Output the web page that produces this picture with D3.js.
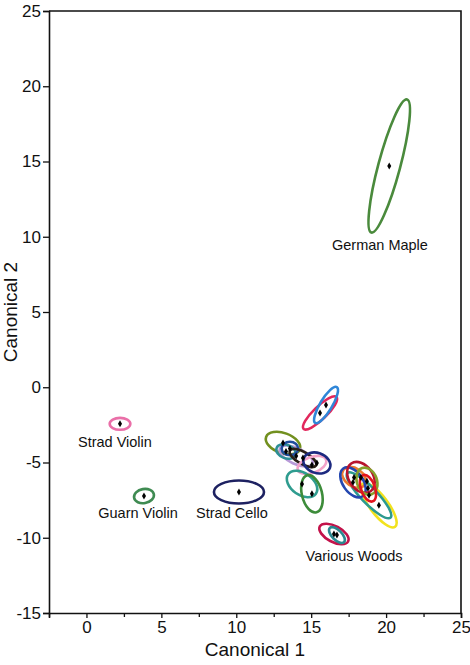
<!DOCTYPE html>
<html><head><meta charset="utf-8">
<script src="https://cdn.jsdelivr.net/npm/d3@7"></script>
<style>
body{margin:0;background:#fff;}
text{font-family:"Liberation Sans",Arial,Helvetica,sans-serif;fill:#111;}
</style></head>
<body>
<svg id="chart" width="470" height="665"></svg>
<script>
// ---- data (canonical scores: group means and confidence ellipses) ----
const groups   = ["German Maple","Strad Violin","Guarn Violin","Strad Cello",
  "Wood A","Wood B","Wood C","Wood D","Wood E","Wood F","Wood G","Wood H","Wood I","Wood J","Wood K",
  "Wood L","Wood M","Wood N","Wood O","Wood P","Wood Q","Wood R","Wood S","Wood T"];
const meanC1   = [20.21, 2.24, 3.84, 10.18, 15.59, 15.99, 13.12, 13.58, 13.32, 14.00, 14.45, 15.05, 15.38, 14.39, 15.05,
  17.86, 17.79, 18.32, 18.72, 18.79, 18.86, 19.52, 16.52, 16.72];
const meanC2   = [14.70, -2.43, -7.23, -6.96, -1.71, -1.18, -3.71, -4.07, -4.27, -4.57, -4.70, -5.16, -5.03, -6.43, -7.08,
  -5.99, -6.32, -5.99, -6.24, -6.71, -7.18, -7.84, -9.75, -9.82];
const semiMajor = [4.6, 0.69, 0.67, 1.67, 1.53, 1.40, 1.20, 0.55, 0.67, 1.20, 1.00, 1.00, 0.93, 1.13, 1.27,
  0.87, 1.13, 1.13, 0.93, 0.93, 2.07, 1.80, 1.07, 0.67];
const semiMinor = [0.73, 0.40, 0.47, 0.77, 0.43, 0.40, 0.67, 0.45, 0.45, 0.53, 0.40, 0.53, 0.67, 0.73, 0.67,
  0.60, 0.67, 0.80, 0.67, 0.47, 0.53, 0.60, 0.53, 0.33];
const tiltDeg  = [75, 0, 10, 0, 44, 59, -20, 0, -20, -25, -30, 20, -20, -35, 104,
  -35, -55, -55, -70, -70, -46, -53, -28, -45];
const colors   = ["#4a8a3c","#ea6fa8","#3f8b52","#1d2161","#e2275c","#2f86d8","#72901f","#1f4d9e","#2d8f96",
  "#b89ad8","#2a2018","#f3a3c9","#1d2a80","#2f9c8f","#3d8c3a",
  "#ec7a30","#2447b0","#b8142e","#86a02c","#e3141f","#2c9a8e","#f2e21e","#c3124a","#2b8890"];
const drawOrder = [0,1,2,3,4,5,6,9,8,7,10,11,12,13,14,21,20,15,16,17,18,19,22,23];
const labelText = ["Strad Violin","Guarn Violin","Strad Cello","German Maple","Various Woods"];
const labelC1   = [1.9, 3.44, 9.71, 19.59, 17.86];
const labelC2   = [-3.97, -8.69, -8.69, 9.12, -11.54];
const xTicks = [0,5,10,15,20,25];
const xMinor = [-2.5,2.5,7.5,12.5,17.5,22.5];
const yTicks = [-15,-10,-5,0,5,10,15,20,25];

// ---- layout ----
const svg = d3.select("#chart");
const L=49, R=461, T=11, B=613;
const x = d3.scaleLinear().domain([-2.5,25]).range([L,R]);
const y = d3.scaleLinear().domain([-15,25]).range([B,T]);
const k = x(1)-x(0);
const fmt = d => String(d);

// frame
svg.append("path").attr("d",`M${L},${T}H${R}V${B}`).attr("fill","none").attr("stroke","#111").attr("stroke-width",1.6);

// axes
svg.append("g").attr("transform",`translate(0,${B})`)
  .call(d3.axisBottom(x).tickValues(xTicks).tickSize(5).tickPadding(3).tickFormat(fmt));
svg.append("g").attr("transform",`translate(0,${B})`)
  .call(d3.axisBottom(x).tickValues(xMinor).tickSize(4).tickFormat(""))
  .call(g=>g.select(".domain").remove());
svg.append("g").attr("transform",`translate(${L},0)`)
  .call(d3.axisLeft(y).tickValues(yTicks).tickSize(6).tickPadding(2).tickFormat(fmt));
svg.selectAll(".domain").attr("stroke","#111").attr("stroke-width",1.6);
svg.selectAll(".tick line").attr("stroke","#111").attr("stroke-width",1.3);
svg.selectAll(".tick text").attr("font-size",17).attr("font-family","Liberation Sans, Arial, sans-serif").attr("fill","#111");

// titles
svg.append("text").attr("x",(L+R)/2).attr("y",656).attr("text-anchor","middle").attr("font-size",19).text("Canonical 1");
svg.append("text").attr("transform",`translate(17,${(T+B)/2}) rotate(-90)`).attr("text-anchor","middle").attr("font-size",19).text("Canonical 2");

// ellipses
svg.append("g").selectAll("ellipse").data(drawOrder).join("ellipse")
  .attr("cx",0).attr("cy",0)
  .attr("rx",i=>semiMajor[i]*k).attr("ry",i=>semiMinor[i]*k)
  .attr("transform",i=>`translate(${x(meanC1[i])},${y(meanC2[i])}) rotate(${-tiltDeg[i]})`)
  .attr("fill","none").attr("stroke",i=>colors[i]).attr("stroke-width",2.6);

// means
svg.append("g").selectAll("path").data(groups.map((g,i)=>i)).join("path")
  .attr("d",d3.symbol(d3.symbolDiamond,14))
  .attr("transform",i=>`translate(${x(meanC1[i])},${y(meanC2[i])})`)
  .attr("fill","#000");

// labels
svg.append("g").selectAll("text").data(labelText).join("text")
  .attr("x",(d,i)=>x(labelC1[i])).attr("y",(d,i)=>y(labelC2[i]))
  .attr("text-anchor","middle").attr("font-size",14.5).text(d=>d);
</script>
</body></html>
